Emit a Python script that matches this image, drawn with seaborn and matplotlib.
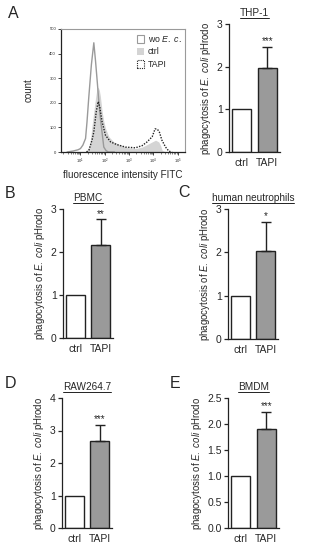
import matplotlib
matplotlib.use("Agg")
import matplotlib.pyplot as plt
import numpy as np
import pandas as pd
import seaborn as sns
from matplotlib.patches import Patch

# ------------------------------------------------
# Data
# ------------------------------------------------
# Panel A: flow cytometry traces (log10 fluorescence, count)
wo_logx = [0.45, 0.7, 0.9, 1.0, 1.1, 1.21, 1.27, 1.34, 1.45, 1.55, 1.62, 1.69, 1.76, 1.82, 1.9, 1.96, 2.05, 2.15, 2.4]
wo_count = [0, 4, 9, 14, 28, 55, 123, 219, 355, 444, 370, 287, 200, 137, 70, 20, 6, 0, 0]

ctrl_logx = [1.2, 1.3, 1.4, 1.48, 1.55, 1.62, 1.68, 1.73, 1.78, 1.82, 1.89, 1.96, 2.03, 2.17, 2.37, 2.71, 2.99, 3.26,
             3.54, 3.74, 3.95, 4.09, 4.22, 4.3, 4.36, 4.5, 4.6]
ctrl_count = [0, 10, 40, 109, 165, 219, 258, 263, 250, 226, 165, 125, 96, 62, 41, 26, 17, 14,
              20, 30, 41, 48, 41, 25, 7, 0, 0]

tapi_logx = [1.25, 1.35, 1.41, 1.48, 1.55, 1.65, 1.73, 1.8, 1.89, 2.03, 2.24, 2.5, 2.85, 3.26, 3.54, 3.74, 3.95,
             4.07, 4.17, 4.25, 4.35, 4.5, 4.64, 4.77]
tapi_count = [0, 8, 27, 50, 82, 164, 205, 180, 123, 68, 41, 30, 20, 17, 26, 41, 62,
              94, 92, 80, 48, 20, 3, 0]

# Bar panels: ctrl vs TAPI (mean, upper SEM)
conditions = ["ctrl", "TAPI"]
thp1_mean = [1.0, 1.97]
thp1_err = [0.0, 0.50]
pbmc_mean = [1.0, 2.17]
pbmc_err = [0.0, 0.59]
neut_mean = [1.0, 2.03]
neut_err = [0.0, 0.68]
raw_mean = [1.0, 2.67]
raw_err = [0.0, 0.50]
bmdm_mean = [1.0, 1.91]
bmdm_err = [0.0, 0.32]

# ------------------------------------------------
# Style
# ------------------------------------------------
sns.set_style("ticks")
plt.rcParams["font.family"] = ["Liberation Sans", "DejaVu Sans"]
plt.rcParams["mathtext.fontset"] = "custom"
plt.rcParams["mathtext.rm"] = "Liberation Sans"
plt.rcParams["mathtext.it"] = "Liberation Sans:italic"
plt.rcParams["axes.linewidth"] = 0.9
plt.rcParams["axes.edgecolor"] = "#222222"

W, H = 320, 550
fig = plt.figure(figsize=(W / 100, H / 100), dpi=100)


def px_rect(x0, y0, x1, y1):
    """pixel box (top-left origin) -> figure fraction rect"""
    return [x0 / W, 1 - y1 / H, (x1 - x0) / W, (y1 - y0) / H]


ylab = r"phagocytosis of $\it{E.}$ $\it{coli}$ pHrodo"
underlines = []


def bar_panel(rect, means, errs, title, stars, ylim, yticks, fmt):
    ax = fig.add_axes(px_rect(*rect))
    df = pd.DataFrame({"cond": conditions, "value": means})
    sns.barplot(data=df, x="cond", y="value", hue="cond",
                palette=["white", "#9a9a9a"], edgecolor="#222222",
                linewidth=1.0, width=0.76, legend=False, ax=ax)
    ax.errorbar([1], [means[1]], yerr=[[0], [errs[1]]], fmt="none",
                ecolor="#222222", elinewidth=1.0, capsize=3.5, capthick=1.0)
    ax.annotate(stars, (1, means[1] + errs[1]), xytext=(0, 0.5),
                textcoords="offset points", ha="center", va="bottom", fontsize=7)
    ax.set_xlim(-0.5, 1.5)
    ax.set_ylim(*ylim)
    ax.set_yticks(yticks)
    ax.set_yticklabels([fmt.format(v) for v in yticks])
    sns.despine(ax=ax)
    ax.tick_params(axis="x", length=0, labelsize=7.5, pad=4.5)
    ax.tick_params(axis="y", length=3, width=0.9, labelsize=7.5, pad=1.5)
    ax.set_xlabel("")
    ax.set_ylabel(ylab, fontsize=6.9, labelpad=2.5)
    t = ax.text(0.5, 1.045, title, transform=ax.transAxes, ha="center",
                va="bottom", fontsize=7.2)
    underlines.append((ax, t))
    return ax


# ------------------------------------------------
# Panel A: histogram overlay
# ------------------------------------------------
axh = fig.add_axes(px_rect(61, 29, 185, 152))
axh.set_xscale("log")
axh.fill_between(10 ** np.array(ctrl_logx), ctrl_count, color="#d4d4d4", lw=0)
sns.lineplot(x=10 ** np.array(wo_logx), y=wo_count, color="#9a9a9a", lw=1.0,
             ax=axh, sort=False)
sns.lineplot(x=10 ** np.array(tapi_logx), y=tapi_count, color="#222222", lw=1.0,
             linestyle=(0, (1, 1)), ax=axh, sort=False)
axh.set_xlim(10 ** 0.2, 10 ** 5.3)
axh.set_ylim(0, 500)
axh.set_yticks(range(0, 501, 100))
axh.tick_params(axis="both", which="major", labelsize=3, length=2, width=0.6, pad=1.5)
axh.tick_params(axis="x", which="minor", length=1.2, width=0.4)
for s in ["top", "right"]:
    axh.spines[s].set_color("#9a9a9a")
    axh.spines[s].set_linewidth(0.8)
axh.set_ylabel("count", fontsize=7, labelpad=11)
axh.set_xlabel("fluorescence intensity FITC", fontsize=7.1, labelpad=3)
handles = [
    Patch(facecolor="white", edgecolor="#9a9a9a", lw=0.8, label=r"wo $\it{E.}$ $\it{c.}$"),
    Patch(facecolor="#d4d4d4", edgecolor="none", label="ctrl"),
    Patch(facecolor="white", edgecolor="#222222", lw=0.8, linestyle=(0, (1, 1)), label="TAPI"),
]
axh.legend(handles=handles, loc="upper left", frameon=False, fontsize=6.3,
           handlelength=0.8, handleheight=1.0, handletextpad=0.5,
           labelspacing=0.4, borderaxespad=0, borderpad=0,
           bbox_to_anchor=(0.61, 0.96))

# ------------------------------------------------
# Bar panels
# ------------------------------------------------
bar_panel((229, 24, 280, 152), thp1_mean, thp1_err, "THP-1", "***", (0, 3), [0, 1, 2, 3], "{:g}")
bar_panel((63, 209, 113, 338), pbmc_mean, pbmc_err, "PBMC", "**", (0, 3), [0, 1, 2, 3], "{:g}")
bar_panel((228, 209, 278, 339), neut_mean, neut_err, "human neutrophils", "*", (0, 3), [0, 1, 2, 3], "{:g}")
bar_panel((62, 398, 112, 528), raw_mean, raw_err, "RAW264.7", "***", (0, 4), [0, 1, 2, 3, 4], "{:g}")
bar_panel((228, 398, 279, 528), bmdm_mean, bmdm_err, "BMDM", "***", (0, 2.5),
          [0, 0.5, 1.0, 1.5, 2.0, 2.5], "{:.1f}")

# panel letters
for letter, x, y in [("A", 8, 13), ("B", 5, 194), ("C", 178, 193), ("D", 5, 383), ("E", 170, 384)]:
    fig.text(x / W, 1 - y / H, letter, fontsize=11.5, ha="left", va="center")

# underline the panel titles
fig.canvas.draw()
renderer = fig.canvas.get_renderer()
inv = fig.transFigure.inverted()
for ax, t in underlines:
    bb = t.get_window_extent(renderer).transformed(inv)
    fig.add_artist(plt.Line2D([bb.x0, bb.x1], [bb.y0 + 0.001, bb.y0 + 0.001],
                              color="#222222", lw=0.7, transform=fig.transFigure))

fig.savefig("out.png", dpi=100)
